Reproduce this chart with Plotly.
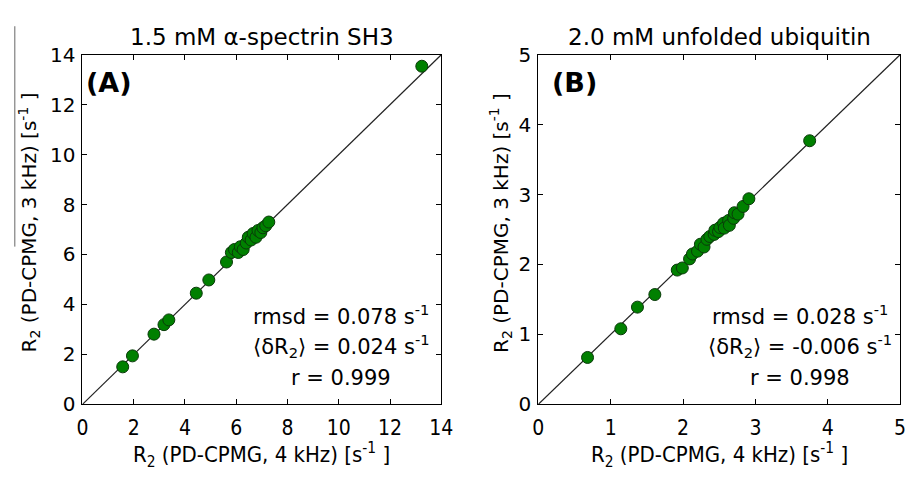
import plotly.graph_objects as go

# ---- data ----
a_x = [1.57, 1.95, 2.79, 3.18, 3.37, 4.44, 4.93, 5.62, 5.81, 5.93, 6.08, 6.16, 6.27, 6.39, 6.47,
       6.58, 6.66, 6.77, 6.85, 6.96, 7.04, 7.15, 7.27, 13.24]
a_y = [1.50, 1.94, 2.81, 3.19, 3.38, 4.45, 4.98, 5.70, 6.08, 6.20, 6.08, 6.31, 6.20, 6.46, 6.69,
       6.58, 6.84, 6.69, 6.96, 6.88, 7.07, 7.15, 7.30, 13.54]
b_x = [0.68, 1.14, 1.37, 1.61, 1.92, 1.99, 2.09, 2.13, 2.20, 2.24, 2.29, 2.33, 2.37, 2.43, 2.44,
       2.49, 2.51, 2.56, 2.57, 2.63, 2.64, 2.70, 2.71, 2.76, 2.83, 2.91, 3.75]
b_y = [0.67, 1.08, 1.39, 1.57, 1.92, 1.95, 2.08, 2.15, 2.19, 2.29, 2.25, 2.36, 2.40, 2.43, 2.49,
       2.47, 2.53, 2.59, 2.52, 2.63, 2.56, 2.66, 2.74, 2.72, 2.83, 2.94, 3.77]
a_max = 14
b_max = 5
a_ticks = [0, 2, 4, 6, 8, 10, 12, 14]
b_ticks = [0, 1, 2, 3, 4, 5]
titles = ["1.5 mM \u03b1-spectrin SH3", "2.0 mM unfolded ubiquitin"]
panel_labels = ["(A)", "(B)"]
stats_a = ["rmsd = 0.078 s<sup>-1</sup>", "\u27e8\u03b4R<sub>2</sub>\u27e9 = 0.024 s<sup>-1</sup>", "r = 0.999"]
stats_b = ["rmsd = 0.028 s<sup>-1</sup>", "\u27e8\u03b4R<sub>2</sub>\u27e9 = -0.006 s<sup>-1</sup>", "r = 0.998"]
xlabel = "R<sub>2</sub> (PD-CPMG, 4 kHz) [s<sup>-1</sup> ]"
ylabel = "R<sub>2</sub> (PD-CPMG, 3 kHz) [s<sup>-1</sup> ]"

W, H = 917, 479
FONT = "DejaVu Sans"
NARROW = "Liberation Sans Narrow, DejaVu Sans Condensed, DejaVu Sans"

fig = go.Figure()

marker = dict(size=12, color="#008000", line=dict(color="#0a3a0a", width=1))

fig.add_trace(go.Scatter(x=[0, a_max], y=[0, a_max], mode="lines",
                         line=dict(color="#222222", width=1.2), xaxis="x", yaxis="y", showlegend=False))
fig.add_trace(go.Scatter(x=a_x, y=a_y, mode="markers", marker=marker,
                         xaxis="x", yaxis="y", showlegend=False))
fig.add_trace(go.Scatter(x=[0, b_max], y=[0, b_max], mode="lines",
                         line=dict(color="#222222", width=1.2), xaxis="x2", yaxis="y2", showlegend=False))
fig.add_trace(go.Scatter(x=b_x, y=b_y, mode="markers", marker=marker,
                         xaxis="x2", yaxis="y2", showlegend=False))

ydom = [1 - 413 / H, 1 - 45 / H]
xdomA = [78 / W, 444 / W]
xdomB = [543 / W, 912 / W]

def xax(dom, rng, ticks, anchor):
    return dict(domain=dom, range=rng, tickvals=ticks, ticktext=[str(t) for t in ticks],
                anchor=anchor, showgrid=False, zeroline=False, showline=True, linecolor="black",
                linewidth=1, mirror="ticks", ticks="inside", ticklen=5, tickcolor="black",
                tickfont=dict(family=NARROW, size=21, color="black"), ticklabelstandoff=4,
                fixedrange=True)

def yax(rng, ticks, anchor):
    return dict(domain=ydom, range=rng, tickvals=ticks, ticktext=[str(t) for t in ticks],
                anchor=anchor, showgrid=False, zeroline=False, showline=True, linecolor="black",
                linewidth=1, mirror="ticks", ticks="inside", ticklen=5, tickcolor="black",
                tickfont=dict(family=FONT, size=20, color="black"), ticklabelstandoff=2,
                fixedrange=True)

fig.update_layout(
    width=W, height=H, margin=dict(l=0, r=0, t=0, b=0),
    paper_bgcolor="white", plot_bgcolor="white",
    xaxis=xax(xdomA, [0, a_max], a_ticks, "y"),
    yaxis=yax([0, a_max], a_ticks, "x"),
    xaxis2=xax(xdomB, [0, b_max], b_ticks, "y2"),
    yaxis2=yax([0, b_max], b_ticks, "x2"),
)

ann = []
# titles
for dom, t in zip([xdomA, xdomB], titles):
    ann.append(dict(x=(dom[0] + dom[1]) / 2, y=1 - 26 / H, xref="paper", yref="paper", text=t,
                    showarrow=False, xanchor="center", yanchor="middle",
                    font=dict(family=FONT, size=23, color="black")))
# panel labels
for px, t in zip([80, 555], panel_labels):
    ann.append(dict(x=px / W, y=1 - 74 / H, xref="paper", yref="paper", text="<b>" + t + "</b>",
                    showarrow=False, xanchor="left", yanchor="middle",
                    font=dict(family=FONT, size=27, color="black")))
# stats
for cx, stats in zip([342, 810], [stats_a, stats_b]):
    for py, t in zip([319, 352, 385], stats):
        ann.append(dict(x=cx / W, y=1 - py / H, xref="paper", yref="paper", text=t,
                        showarrow=False, xanchor="center", yanchor="middle",
                        font=dict(family=FONT, size=21, color="black")))
# axis titles
for dom in [xdomA, xdomB]:
    ann.append(dict(x=(dom[0] + dom[1]) / 2, y=1 - 466 / H, xref="paper", yref="paper", text=xlabel,
                    showarrow=False, xanchor="center", yanchor="middle",
                    font=dict(family=NARROW, size=22, color="black")))
for px in [24, 505]:
    ann.append(dict(x=px / W, y=1 - 222 / H, xref="paper", yref="paper", text=ylabel,
                    showarrow=False, xanchor="center", yanchor="middle", textangle=-90,
                    font=dict(family=FONT, size=20, color="black")))
fig.update_layout(annotations=ann)

# stray vertical rule at the left edge seen in the reference
fig.add_shape(type="line", xref="paper", yref="paper", x0=9 / W, x1=9 / W,
              y0=1 - 15 / H, y1=1 - 247 / H, line=dict(color="#666666", width=1))

fig.write_html("out.html")
